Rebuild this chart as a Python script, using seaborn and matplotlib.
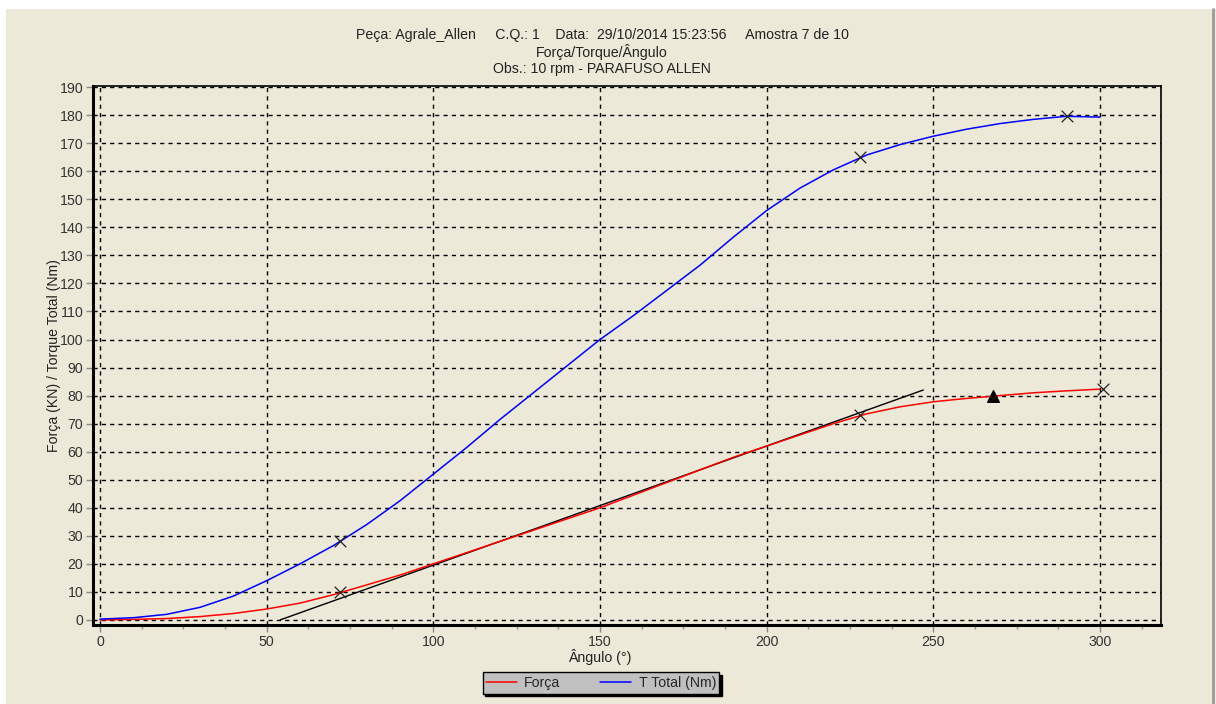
import pandas as pd
import matplotlib
matplotlib.use("Agg")
import matplotlib.pyplot as plt
import seaborn as sns
from matplotlib.patches import Rectangle
from matplotlib.lines import Line2D
from matplotlib.ticker import MultipleLocator

# dados
angulo = [0, 10, 20, 30, 40, 50, 60, 70, 80, 90, 100, 110, 120, 130, 140, 150,
          160, 170, 180, 190, 200, 210, 220, 230, 240, 250, 260, 270, 280, 290, 300]
forca = [0, 0.2, 0.5, 1.2, 2.3, 3.9, 6, 9, 12.5, 16, 20, 24, 28, 32, 36, 40,
         44.5, 49, 53.5, 58, 62, 66, 70, 73.5, 76, 77.8, 79, 80, 81, 81.7, 82.3]
torque = [0.3, 0.8, 2, 4.5, 8.5, 14, 20, 26.5, 34, 42.5, 52, 61.5, 71.5, 81, 90.5, 100,
          108.5, 117.5, 126.5, 136.5, 146, 154, 160.5, 165.8, 169.5, 172.5, 175, 177, 178.5, 179.6, 179.3]

tangente_x = [54, 247]
tangente_y = [0, 82]

marcas_torque_x = [72, 228, 290]
marcas_torque_y = [28, 165, 179.7]
marcas_forca_x = [72, 228, 301]
marcas_forca_y = [10, 73, 82.3]
triangulo_x = [268]
triangulo_y = [79.8]

titulo = ["Peça: Agrale_Allen     C.Q.: 1    Data:  29/10/2014 15:23:56     Amostra 7 de 10",
          "Força/Torque/Ângulo",
          "Obs.: 10 rpm - PARAFUSO ALLEN"]

fundo = "#ECE9D8"
fs = 10.2
sns.set_style("ticks")
plt.rcParams['font.family'] = ['Liberation Sans', 'DejaVu Sans']

df = pd.DataFrame({'Ângulo': angulo, 'Força': forca, 'T Total (Nm)': torque})
longo = df.melt(id_vars='Ângulo', var_name='serie', value_name='valor')

fig = plt.figure(figsize=(12.16, 7.04), dpi=100, facecolor=fundo)
ax = fig.add_axes([93 / 1216, 1 - 625 / 704, (1161 - 93) / 1216, (625 - 86) / 704])
ax.set_facecolor(fundo)

sns.lineplot(data=longo, x='Ângulo', y='valor', hue='serie',
             palette={'Força': '#FF0000', 'T Total (Nm)': '#0000FF'},
             linewidth=1.1, ax=ax, legend=False, zorder=3)
sns.lineplot(x=tangente_x, y=tangente_y, color='black', linewidth=1, ax=ax, zorder=2)

ax.scatter(marcas_torque_x + marcas_forca_x, marcas_torque_y + marcas_forca_y,
           marker='x', s=70, color='#222222', linewidths=0.9, zorder=4)
ax.scatter(triangulo_x, triangulo_y, marker='^', s=70, color='black', zorder=4)

ax.set_xlim(-2.1, 318.3)
ax.set_ylim(-1.8, 190.4)
ax.xaxis.set_major_locator(MultipleLocator(50))
ax.xaxis.set_minor_locator(MultipleLocator(12.5))
ax.yaxis.set_major_locator(MultipleLocator(10))

ax.grid(True, which='major', color='black', linestyle=(0, (3, 3)), linewidth=1)
for lado in ['left', 'bottom']:
    ax.spines[lado].set_linewidth(2.2)
for lado in ['top', 'right']:
    ax.spines[lado].set_linewidth(1.2)
for s in ax.spines.values():
    s.set_color('black')
    s.set_visible(True)

ax.tick_params(which='major', length=5, width=1, color='#888888', labelsize=fs,
               labelcolor='#333333', pad=2)
ax.tick_params(which='minor', length=3, width=1, color='#888888')

ax.set_xlabel('Ângulo (°)', fontsize=fs, color='#222222', labelpad=1)
ax.xaxis.set_label_coords(152.1 / 320.4, -0.045)
ax.set_ylabel('Força (KN) / Torque Total (Nm)', fontsize=fs, color='#222222', labelpad=-1)

for i, linha in enumerate(titulo):
    fig.text(602 / 1216, 1 - (35 + 17 * i) / 704, linha, ha='center', va='center',
             fontsize=fs, color='#222222')

# legenda cinza com sombra
handles = [Line2D([], [], color='#FF0000', lw=1.1), Line2D([], [], color='#0000FF', lw=1.1)]
leg = fig.legend(handles, ['Força', 'T Total (Nm)'], loc='center',
                 bbox_to_anchor=(601 / 1216, 1 - 683 / 704), ncol=2, fontsize=fs,
                 frameon=True, fancybox=False, handlelength=2.2, columnspacing=2.8,
                 handletextpad=0.5, borderpad=0.25, borderaxespad=0,
                 shadow={'color': 'black', 'alpha': 1})
leg.get_frame().set_facecolor('#C0C0C0')
leg.get_frame().set_edgecolor('black')
leg.get_frame().set_alpha(1)

# moldura da janela
fig.add_artist(Rectangle((0, 1 - 9 / 704), 1, 9 / 704, transform=fig.transFigure,
                         facecolor='white', edgecolor='none'))
fig.add_artist(Rectangle((0, 0), 6 / 1216, 1, transform=fig.transFigure,
                         facecolor='white', edgecolor='none'))
fig.add_artist(Line2D([1213 / 1216, 1213 / 1216], [0, 1 - 9 / 704], transform=fig.transFigure,
                      color='#9A9A9A', lw=2))

fig.savefig('out.png', dpi=100, facecolor=fundo)
